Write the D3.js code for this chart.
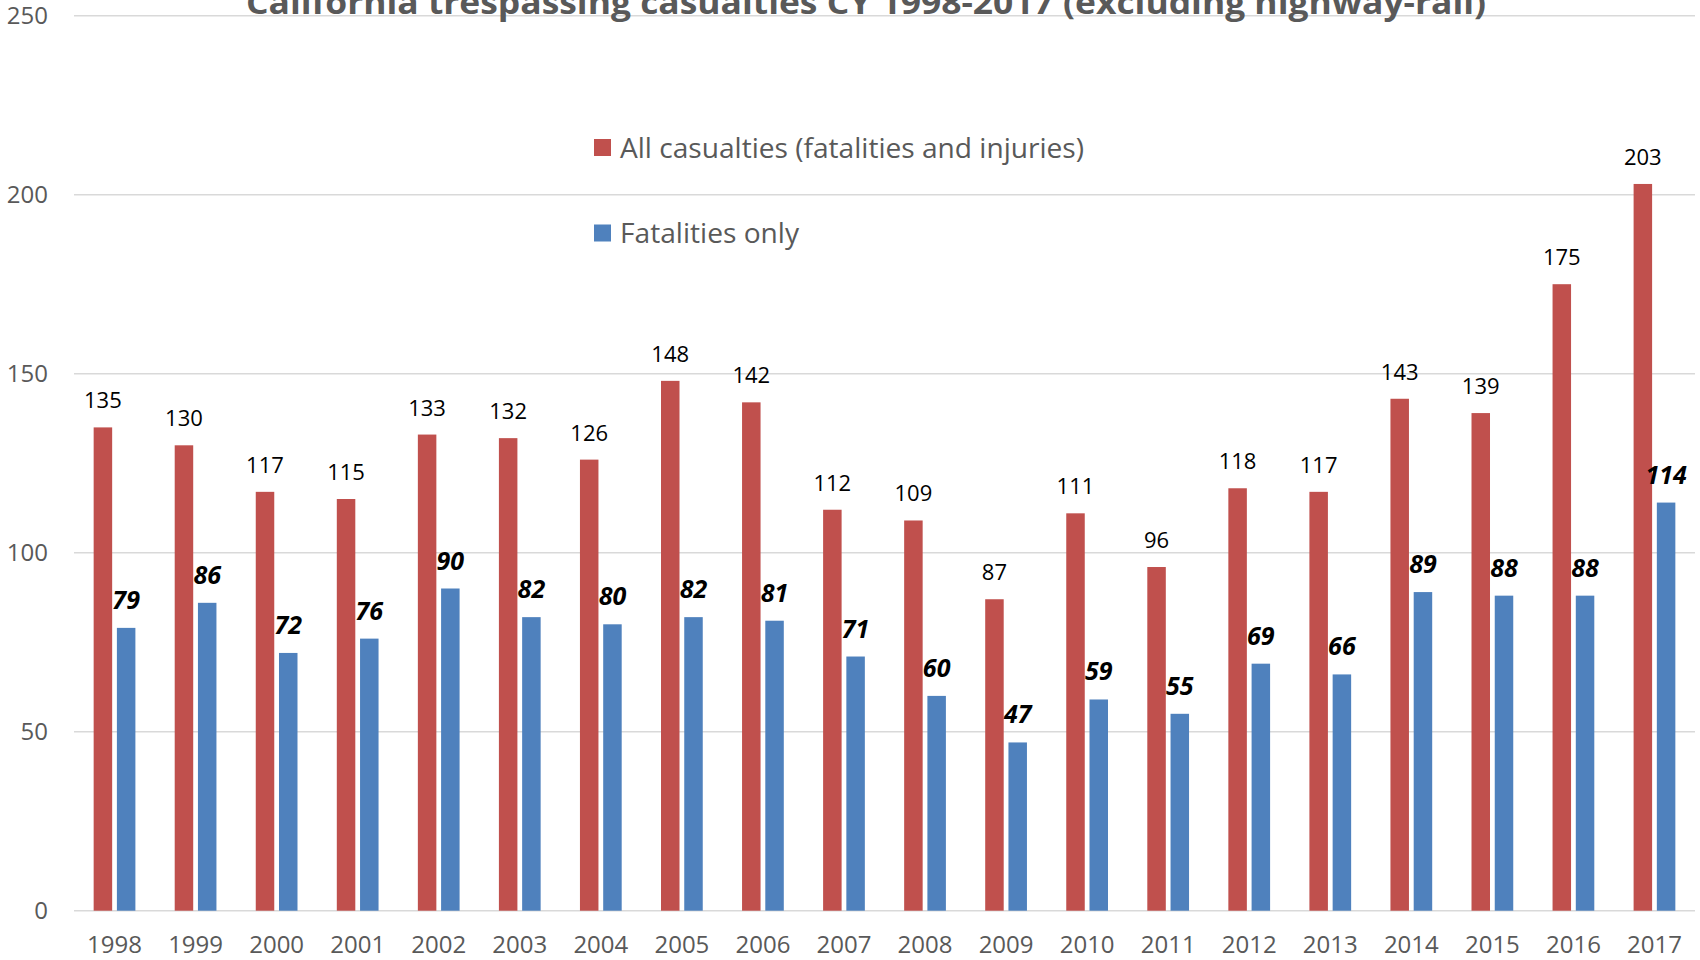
<!DOCTYPE html>
<html>
<head>
<meta charset="utf-8">
<script src="https://cdn.jsdelivr.net/npm/d3@7/dist/d3.min.js"></script>
<style>
  html, body { margin: 0; padding: 0; background: #ffffff; }
  svg { display: block; }
  text { font-family: "Open Sans", "Noto Sans", sans-serif; }
</style>
</head>
<body>
<svg id="chart" width="1700" height="960"></svg>
<script>
// Calendar years on the category axis
const years = ["1998","1999","2000","2001","2002","2003","2004","2005","2006","2007",
               "2008","2009","2010","2011","2012","2013","2014","2015","2016","2017"];

// All casualties (fatalities and injuries) per year
const allCasualties = [135,130,117,115,133,132,126,148,142,112,109,87,111,96,118,117,143,139,175,203];

// Fatalities only per year
const fatalitiesOnly = [79,86,72,76,90,82,80,82,81,71,60,47,59,55,69,66,89,88,88,114];

// Value axis ticks
const yTicks = [0, 50, 100, 150, 200, 250];

const seriesNames = ["All casualties (fatalities and injuries)", "Fatalities only"];
const seriesKeys = ["all", "fat"];
const seriesColors = ["#C0504D", "#4F81BD"];

const titleText = "California trespassing casualties CY 1998-2017 (excluding highway-rail)";

const rows = years.map((y, i) => ({ year: y, all: allCasualties[i], fat: fatalitiesOnly[i] }));

const svg = d3.select("#chart");

const plot = { left: 74, right: 1695, top: 15.7, bottom: 910.7 };

const x = d3.scaleBand().domain(years).range([plot.left, plot.right]).paddingInner(0).paddingOuter(0);
const bw = x.bandwidth();
const xSub = d3.scaleBand().domain(seriesKeys)
  .range([bw * 0.2425, bw * 0.7575]).paddingInner(0.204).paddingOuter(0);
const y = d3.scaleLinear().domain([0, 250]).range([plot.bottom, plot.top]);

const textGray = "#595959";

// Horizontal gridlines
svg.append("g").selectAll("line").data(yTicks).join("line")
  .attr("x1", plot.left).attr("x2", plot.right)
  .attr("y1", d => y(d)).attr("y2", d => y(d))
  .attr("stroke", "#D9D9D9").attr("stroke-width", 1.5);

// Value axis labels
const yAxis = d3.axisLeft(y).tickValues(yTicks).tickSize(0).tickPadding(0);
const yg = svg.append("g").attr("transform", "translate(48,0)").call(yAxis);
yg.select(".domain").remove();
yg.selectAll("text")
  .attr("fill", textGray).attr("font-size", 24)
  .attr("font-family", "'Open Sans', sans-serif");

// Category axis labels
const xAxis = d3.axisBottom(x).tickSize(0).tickPadding(0);
const xg = svg.append("g").attr("transform", "translate(0,936)").call(xAxis);
xg.select(".domain").remove();
xg.selectAll("text")
  .attr("fill", textGray).attr("font-size", 24)
  .attr("font-family", "'Open Sans', sans-serif")
  .attr("dy", "0.72em");

// Bars
const groups = svg.append("g").selectAll("g").data(rows).join("g")
  .attr("transform", d => `translate(${x(d.year)},0)`);

seriesKeys.forEach((k, si) => {
  groups.append("rect")
    .attr("x", xSub(k))
    .attr("width", xSub.bandwidth())
    .attr("y", d => y(d[k]))
    .attr("height", d => y(0) - y(d[k]))
    .attr("fill", seriesColors[si]);
});

// Data labels: all casualties in regular weight
groups.append("text")
  .attr("x", xSub("all") + xSub.bandwidth() / 2)
  .attr("y", d => y(d.all) - 19)
  .attr("text-anchor", "middle")
  .attr("font-size", 22)
  .attr("fill", "#000")
  .text(d => d.all);

// Data labels: fatalities in bold italic
groups.append("text")
  .attr("x", xSub("fat") + xSub.bandwidth() / 2)
  .attr("y", d => y(d.fat) - 19)
  .attr("text-anchor", "middle")
  .attr("font-size", 25)
  .attr("font-weight", "bold")
  .attr("font-style", "italic")
  .attr("fill", "#000")
  .text(d => d.fat);

// Legend
const legend = svg.append("g");
const legendRows = [
  { name: seriesNames[0], color: seriesColors[0], cy: 147.5, len: 464 },
  { name: seriesNames[1], color: seriesColors[1], cy: 233, len: 179 }
];
legendRows.forEach(r => {
  legend.append("rect")
    .attr("x", 594).attr("y", r.cy - 8.5)
    .attr("width", 17).attr("height", 17)
    .attr("fill", r.color);
  legend.append("text")
    .attr("x", 620).attr("y", r.cy)
    .attr("dy", "0.36em")
    .attr("font-size", 28)
    .attr("fill", textGray)
    .attr("textLength", r.len)
    .attr("lengthAdjust", "spacingAndGlyphs")
    .text(r.name);
});

// Title
svg.append("text")
  .attr("x", 246).attr("y", 14)
  .attr("font-size", 33)
  .attr("font-weight", "bold")
  .attr("fill", textGray)
  .attr("textLength", 1240)
  .attr("lengthAdjust", "spacingAndGlyphs")
  .text(titleText);
</script>
</body>
</html>
